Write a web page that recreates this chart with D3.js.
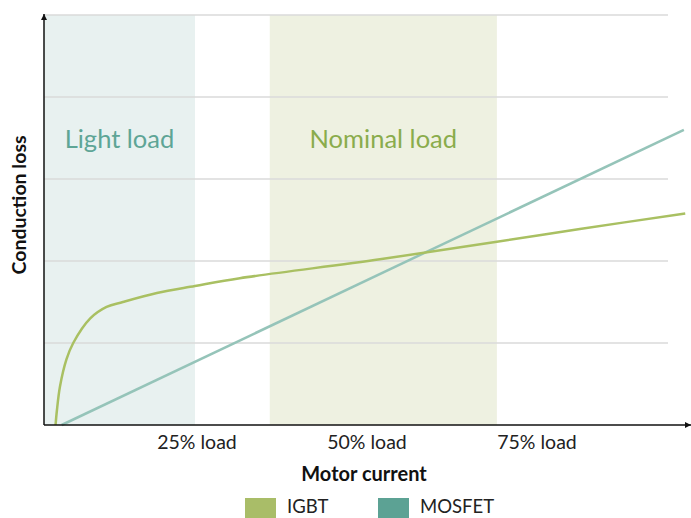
<!DOCTYPE html>
<html lang="en">
<head>
<meta charset="utf-8">
<script src="https://d3js.org/d3.v7.min.js"></script>
<style>
  body { margin: 0; background: #fff; }
  text { font-family: "Lato", "Noto Sans", sans-serif; }
</style>
</head>
<body>
<div id="chart"></div>
<script>
// data (x in % of rated load, y in arbitrary loss units)
var igbt = [[4.2,0],[4.4,0.18],[4.85,0.47],[5.8,0.8],[6.8,1.0],[9.3,1.3],[11.7,1.44],[14.1,1.5],[19.1,1.61],[24.7,1.695],[31.3,1.79],[51.9,2.02],[69.1,2.235],[81.3,2.39],[96.8,2.58]];
var mosfet = [[5.1,0],[96.6,3.6]];
var bands = [
  {name: "Light load", from: 2.5, to: 24.7, fill: "#e8f1f0", color: "#5ea596"},
  {name: "Nominal load", from: 35.7, to: 69.1, fill: "#eef1e1", color: "#8aac4c"}
];
var tickValues = [25, 50, 75];
var tickLabels = ["25% load", "50% load", "75% load"];
var gridValues = [1, 2, 3, 4, 5];
var series = ["IGBT", "MOSFET"];

var w = 691, h = 518;
var svg = d3.select("#chart").append("svg").attr("width", w).attr("height", h);

var x = d3.scaleLinear().domain([0, 100]).range([27, 707]);
var y = d3.scaleLinear().domain([0, 5]).range([425, 15]);
var x0 = 44, xGridEnd = 668;

// bands
svg.selectAll("rect.band").data(bands).enter().append("rect")
  .attr("class", "band")
  .attr("x", function(d) { return Math.max(x(d.from), x0) })
  .attr("y", y(5))
  .attr("width", function(d) { return x(d.to) - Math.max(x(d.from), x0) })
  .attr("height", y(0) - y(5))
  .attr("fill", function(d) { return d.fill });

// gridlines
svg.selectAll("line.grid").data(gridValues).enter().append("line")
  .attr("class", "grid")
  .attr("x1", x0).attr("x2", xGridEnd)
  .attr("y1", function(d) { return y(d) }).attr("y2", function(d) { return y(d) })
  .attr("stroke", "#dadada").attr("stroke-width", 1.5);

// band labels
svg.selectAll("text.band").data(bands).enter().append("text")
  .attr("class", "band")
  .attr("x", function(d) { return (Math.max(x(d.from), x0) + x(d.to)) / 2 })
  .attr("y", 148)
  .attr("text-anchor", "middle")
  .attr("font-size", 25.5)
  .attr("fill", function(d) { return d.color })
  .text(function(d) { return d.name });

// lines
var line = d3.line().x(function(d) { return x(d[0]) }).y(function(d) { return y(d[1]) });
svg.append("path").datum(mosfet).attr("d", line)
  .attr("fill", "none").attr("stroke", "#95c4b9").attr("stroke-width", 2.5);
svg.append("path").datum(igbt).attr("d", line.curve(d3.curveCatmullRom.alpha(0.5)))
  .attr("fill", "none").attr("stroke", "#a9c062").attr("stroke-width", 2.5);

// axes with arrows
var defs = svg.append("defs");
defs.append("marker").attr("id", "arrow").attr("viewBox", "0 0 10 10")
  .attr("refX", 10).attr("refY", 5).attr("markerWidth", 6).attr("markerHeight", 6)
  .attr("markerUnits", "userSpaceOnUse").attr("orient", "auto")
  .append("path").attr("d", "M0,0 L10,5 L0,10 z").attr("fill", "#111");

svg.append("line").attr("x1", x0).attr("y1", y(0)).attr("x2", 691).attr("y2", y(0))
  .attr("stroke", "#111").attr("stroke-width", 1.5).attr("marker-end", "url(#arrow)");
svg.append("line").attr("x1", x0).attr("y1", y(0)).attr("x2", x0).attr("y2", 14)
  .attr("stroke", "#111").attr("stroke-width", 1.5).attr("marker-end", "url(#arrow)");

// x tick labels
svg.selectAll("text.tick").data(tickValues).enter().append("text")
  .attr("class", "tick")
  .attr("x", function(d) { return x(d) })
  .attr("y", 449)
  .attr("text-anchor", "middle")
  .attr("font-size", 19.5)
  .attr("fill", "#222")
  .text(function(d, i) { return tickLabels[i] });

// axis titles
svg.append("text").attr("x", 364).attr("y", 481).attr("text-anchor", "middle")
  .attr("font-size", 20).attr("font-weight", "bold").attr("fill", "#111").text("Motor current");
svg.append("text").attr("transform", "translate(26,205) rotate(-90)").attr("text-anchor", "middle")
  .attr("font-size", 19.5).attr("font-weight", "bold").attr("fill", "#111").text("Conduction loss");

// legend
var legendColors = ["#a9bd68", "#5ca294"];
var legendX = [245, 378];
var lg = svg.selectAll("g.legend").data(series).enter().append("g")
  .attr("class", "legend")
  .attr("transform", function(d, i) { return "translate(" + legendX[i] + ",498)" });
lg.append("rect").attr("width", 31).attr("height", 21)
  .attr("fill", function(d, i) { return legendColors[i] });
lg.append("text").attr("x", 42).attr("y", 15).attr("font-size", 18.5).attr("fill", "#222")
  .text(function(d) { return d });
</script>
</body>
</html>
